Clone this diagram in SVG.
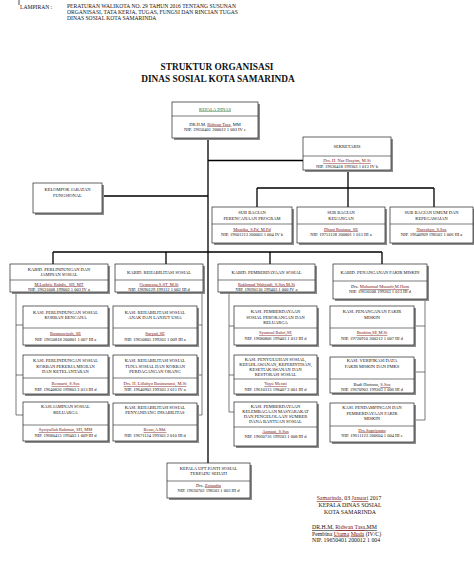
<svg xmlns="http://www.w3.org/2000/svg" width="474" height="573" viewBox="0 0 474 573">
<style>
.sh{fill:#8c8c8c}
.bx{fill:#fff;stroke:#222;stroke-width:0.7}
.dv{stroke:#222;stroke-width:0.6}
text{font-family:"Liberation Serif","Times New Roman",serif;fill:#111}
.t{font-size:4.5px;text-anchor:middle}
.nm{fill:#7a1414;text-decoration:underline}
.gr{fill:#2d6b2d;text-decoration:underline}
.c{fill:none;stroke:#000;stroke-width:1.3}
.cs{fill:none;stroke:#444;stroke-width:0.7}
.hd{font-size:5.6px}
.ti{font-size:9.3px;font-weight:bold;text-anchor:middle}
.sg{font-size:5.8px}
</style>
<rect width="474" height="573" fill="#fff"/>
<g id="header">
<line x1="19" y1="0" x2="19" y2="5" stroke="#000" stroke-width="0.7"/>
<text class="hd" x="20" y="9">LAMPIRAN :</text>
<text class="hd" x="67" y="8">PERATURAN WALIKOTA NO. 29 TAHUN 2016 TENTANG SUSUNAN</text>
<text class="hd" x="67" y="14">ORGANISASI, TATA KERJA, TUGAS, FUNGSI DAN RINCIAN TUGAS</text>
<text class="hd" x="67" y="20">DINAS SOSIAL KOTA SAMARINDA</text>
<text class="ti" x="217" y="70">STRUKTUR ORGANISASI</text>
<text class="ti" x="218" y="82">DINAS SOSIAL KOTA SAMARINDA</text>
</g>
<g id="connectors">
<path class="c" d="M208 138V463M208 160.5H303M102 196H208M348 170V188M257 188H434M257 188V207M348 188V207M434 188V207M53 252H382M53 252V264M166 252V264M270 252V264M382 252V264"/>
<path class="cs" d="M16 292V415M16 325H23M16 375H23M16 415H23M202 292V415M197 325H202M197 375H202M197 415H202M229 292V412M229 326H234M229 375H234M229 412H234M425 299V420M414 326H425M414 372H425M414 420H425"/>
</g>
<g id="kepala-dinas">
<rect class="sh" x="174" y="104" width="86" height="36"/><rect class="bx" x="172" y="102" width="86" height="36"/><line class="dv" x1="172" y1="116" x2="258" y2="116"/>
<text class="t gr" x="215" y="110.5">KEPALA DINAS</text>
<text class="t" x="215" y="125.5">DR.H.M. <tspan class="nm">Ridwan Tasa</tspan>, MM</text>
<text class="t" x="215" y="131">NIP. 19650401 200012 1 003 IV e</text>
</g>
<g id="sekretaris">
<rect class="sh" x="305" y="139" width="88" height="33"/><rect class="bx" x="303" y="137" width="88" height="33"/><line class="dv" x1="303" y1="156" x2="391" y2="156"/>
<text class="t" x="347" y="148">SEKRETARIS</text>
<text class="t nm" x="347" y="162">Drs. H. Nur Hasyim, M.Si</text>
<text class="t" x="347" y="167.5">NIP. 19630418 199303 1 013 IV b</text>
</g>
<g id="kelompok-jabatan-fungsional">
<rect class="sh" x="35" y="185" width="69" height="30"/><rect class="bx" x="33" y="183" width="69" height="30"/>
<text class="t" x="67.5" y="191">KELOMPOK JABATAN</text>
<text class="t" x="67.5" y="197">FUNGSIONAL</text>
</g>
<g id="subbag-perencanaan">
<rect class="sh" x="214" y="209" width="80" height="36"/><rect class="bx" x="212" y="207" width="80" height="36"/><line class="dv" x1="212" y1="224" x2="292" y2="224"/>
<text class="t" x="252" y="213.5">SUB BAGIAN</text>
<text class="t" x="252" y="219.5">PERENCANAAN PROGRAM</text>
<text class="t nm" x="252" y="230.5">Mustika, S.Pd, M.Pd</text>
<text class="t" x="252" y="236">NIP. 19601213 200003 1 004 IV b</text>
</g>
<g id="subbag-keuangan">
<rect class="sh" x="299" y="209" width="88" height="36"/><rect class="bx" x="297" y="207" width="88" height="36"/><line class="dv" x1="297" y1="224" x2="385" y2="224"/>
<text class="t" x="341" y="213.5">SUB BAGIAN</text>
<text class="t" x="341" y="219.5">KEUANGAN</text>
<text class="t nm" x="341" y="230.5">Dhani Rosiana, SE</text>
<text class="t" x="341" y="236">NIP. 19751128 200801 1 015 III a</text>
</g>
<g id="subbag-umum">
<rect class="sh" x="392" y="209" width="83" height="36"/><rect class="bx" x="390" y="207" width="83" height="36"/><line class="dv" x1="390" y1="224" x2="473" y2="224"/>
<text class="t" x="431.5" y="213.5">SUB BAGIAN UMUM DAN</text>
<text class="t" x="431.5" y="219.5">KEPEGAWAIAN</text>
<text class="t nm" x="431.5" y="230.5">Nurcahyo, S.Sos</text>
<text class="t" x="431.5" y="236">NIP. 19640909 198503 1 006 III a</text>
</g>
<g id="kabid-perlindungan">
<rect class="sh" x="12" y="266" width="98" height="28"/><rect class="bx" x="10" y="264" width="98" height="28"/><line class="dv" x1="10" y1="280" x2="108" y2="280"/>
<text class="t" x="59" y="270.5">KABID. PERLINDUNGAN DAN</text>
<text class="t" x="59" y="276">JAMINAN SOSIAL</text>
<text class="t nm" x="59" y="285.5">M.Luthfie Rahdie, SH, MT</text>
<text class="t" x="59" y="290.5">NIP. 19631008 199002 1 003 IV a</text>
</g>
<g id="kabid-rehabilitasi">
<rect class="sh" x="117" y="266" width="88" height="28"/><rect class="bx" x="115" y="264" width="88" height="28"/><line class="dv" x1="115" y1="280" x2="203" y2="280"/>
<text class="t" x="159" y="273.5">KABID. REHABILITASI SOSIAL</text>
<text class="t nm" x="159" y="285.5">Oemarosa,S.ST, M.Si</text>
<text class="t" x="159" y="290.5">NIP. 19690129 199112 1 002 III d</text>
</g>
<g id="kabid-pemberdayaan">
<rect class="sh" x="220" y="266" width="97" height="28"/><rect class="bx" x="218" y="264" width="97" height="28"/><line class="dv" x1="218" y1="280" x2="315" y2="280"/>
<text class="t" x="266.5" y="273.5">KABID. PEMBERDAYAAN SOSIAL</text>
<text class="t nm" x="266.5" y="285.5">Rakhmad Wahyudi, S.Sos,M.Si</text>
<text class="t" x="266.5" y="290.5">NIP. 19690130 199403 1 000 IV a</text>
</g>
<g id="kabid-fakir-miskin">
<rect class="sh" x="335" y="266" width="94" height="35"/><rect class="bx" x="333" y="264" width="94" height="35"/><line class="dv" x1="333" y1="281" x2="427" y2="281"/>
<text class="t" x="380" y="273.5">KABID. PENANGANAN FAKIR MISKIN</text>
<text class="t" x="380" y="288"><tspan>Drs. </tspan><tspan class="nm">Muhamad Munafir,M.Hum</tspan></text>
<text class="t" x="380" y="293">NIP. 19610508 199203 1 013 III d</text>
</g>
<g id="kasi-korban-bencana">
<rect class="sh" x="25" y="308" width="85" height="39"/><rect class="bx" x="23" y="306" width="85" height="39"/><line class="dv" x1="23" y1="328" x2="108" y2="328"/>
<text class="t" x="65.5" y="313.5">KASI. PERLINDUNGAN SOSIAL</text>
<text class="t" x="65.5" y="319">KORBAN BENCANA</text>
<text class="t nm" x="65.5" y="334.5">Rusmawiyah, SE</text>
<text class="t" x="65.5" y="340.5">NIP. 19650818 200801 1 007 III a</text>
</g>
<g id="kasi-pekerja-migran">
<rect class="sh" x="25" y="357" width="85" height="39"/><rect class="bx" x="23" y="355" width="85" height="39"/><line class="dv" x1="23" y1="378" x2="108" y2="378"/>
<text class="t" x="65.5" y="362">KASI. PERLINDUNGAN SOSIAL</text>
<text class="t" x="65.5" y="367.5">KORBAN PEKERJA MIGRAN</text>
<text class="t" x="65.5" y="373">DAN KETELANTARAN</text>
<text class="t nm" x="65.5" y="385">Bennarti, S.Sos</text>
<text class="t" x="65.5" y="390.5">NIP. 19640820 199803 2 013 III d</text>
</g>
<g id="kasi-jaminan-keluarga">
<rect class="sh" x="25" y="404" width="85" height="39"/><rect class="bx" x="23" y="402" width="85" height="39"/><line class="dv" x1="23" y1="425" x2="108" y2="425"/>
<text class="t" x="65.5" y="408">KASI.JAMINAN SOSIAL</text>
<text class="t" x="65.5" y="414">KELUARGA</text>
<text class="t nm" x="65.5" y="431">Syaiyullah Rahman, SH, MM</text>
<text class="t" x="65.5" y="436.5">NIP. 19680413 199403 1 009 III d</text>
</g>
<g id="kasi-anak-lansia">
<rect class="sh" x="115" y="308" width="84" height="39"/><rect class="bx" x="113" y="306" width="84" height="39"/><line class="dv" x1="113" y1="328" x2="197" y2="328"/>
<text class="t" x="155" y="313.5">KASI. REHABILITASI SOSIAL</text>
<text class="t" x="155" y="319">ANAK DAN LANJUT USIA</text>
<text class="t nm" x="155" y="334.5">Suryati,SE</text>
<text class="t" x="155" y="340.5">NIP. 19650805 199203 1 009 III a</text>
</g>
<g id="kasi-tuna-sosial">
<rect class="sh" x="115" y="357" width="84" height="39"/><rect class="bx" x="113" y="355" width="84" height="39"/><line class="dv" x1="113" y1="378" x2="197" y2="378"/>
<text class="t" x="155" y="362">KASI. REHABILITASI SOSIAL</text>
<text class="t" x="155" y="367.5">TUNA SOSIAL DAN KORBAN</text>
<text class="t" x="155" y="373">PERDAGANGAN ORANG</text>
<text class="t nm" x="155" y="385">Drs. H. Lillahyo Basinuransi, M.Si</text>
<text class="t" x="155" y="390.5">NIP. 19640903 199303 2 011 IV a</text>
</g>
<g id="kasi-disabilitas">
<rect class="sh" x="115" y="405" width="84" height="38"/><rect class="bx" x="113" y="403" width="84" height="38"/><line class="dv" x1="113" y1="425" x2="197" y2="425"/>
<text class="t" x="155" y="408.5">KASI. REHABILITASI SOSIAL</text>
<text class="t" x="155" y="414">PENYANDANG DISABILITAS</text>
<text class="t nm" x="155" y="431">Besar,A.Md.</text>
<text class="t" x="155" y="436.5">NIP. 19671124 199303 2 010 III d</text>
</g>
<g id="kasi-perorangan-keluarga">
<rect class="sh" x="236" y="308" width="83" height="39"/><rect class="bx" x="234" y="306" width="83" height="39"/><line class="dv" x1="234" y1="328" x2="317" y2="328"/>
<text class="t" x="275.5" y="313">KASI. PEMBERDAYAAN</text>
<text class="t" x="275.5" y="318.5">SOSIAL PERORANGAN DAN</text>
<text class="t" x="275.5" y="324">KELUARGA</text>
<text class="t nm" x="275.5" y="334">Syamsul Bahri,SE</text>
<text class="t" x="275.5" y="340">NIP. 19680806 199403 1 012 III d</text>
</g>
<g id="kasi-penyuluhan">
<rect class="sh" x="236" y="357" width="83" height="39"/><rect class="bx" x="234" y="355" width="83" height="39"/><line class="dv" x1="234" y1="379" x2="317" y2="379"/>
<text class="t" x="275.5" y="360.5">KASI. PENYULUHAN SOSIAL,</text>
<text class="t" x="275.5" y="365.5">KEPAHLAWANAN, KEPERINTISAN,</text>
<text class="t" x="275.5" y="370.5">KESETIAKAWANAN DAN</text>
<text class="t" x="275.5" y="375.5">RESTORASI SOSIAL</text>
<text class="t nm" x="275.5" y="385">Yayu Merati</text>
<text class="t" x="275.5" y="390.5">NIP. 19610313 198407 2 001 III d</text>
</g>
<g id="kasi-kelembagaan">
<rect class="sh" x="236" y="404" width="83" height="44"/><rect class="bx" x="234" y="402" width="83" height="44"/><line class="dv" x1="234" y1="427" x2="317" y2="427"/>
<text class="t" x="275.5" y="407.5">KASI. PEMBERDAYAAN</text>
<text class="t" x="275.5" y="412.5">KELEMBAGAAN MASYARAKAT</text>
<text class="t" x="275.5" y="417.5">DAN PENGELOLAAN SUMBER</text>
<text class="t" x="275.5" y="422.5">DANA BANTUAN SOSIAL</text>
<text class="t nm" x="275.5" y="432.5">Asmani, S.Sos</text>
<text class="t" x="275.5" y="438">NIP. 19660716 199203 1 008 III d</text>
</g>
<g id="kasi-penanganan-fakir">
<rect class="sh" x="332" y="308" width="84" height="39"/><rect class="bx" x="330" y="306" width="84" height="39"/><line class="dv" x1="330" y1="328" x2="414" y2="328"/>
<text class="t" x="372" y="313">KASI. PENANGANAN FAKIR</text>
<text class="t" x="372" y="318.5">MISKIN</text>
<text class="t nm" x="372" y="334">Ibrahim,SE,M.Si</text>
<text class="t" x="372" y="340">NIP. 19720910 200212 1 007 III d</text>
</g>
<g id="kasi-verifikasi">
<rect class="sh" x="332" y="359" width="84" height="36"/><rect class="bx" x="330" y="357" width="84" height="36"/><line class="dv" x1="330" y1="379" x2="414" y2="379"/>
<text class="t" x="372" y="362">KASI. VERIFIKASI DATA</text>
<text class="t" x="372" y="367.5">FAKIR MISKIN DAN PMKS</text>
<text class="t" x="372" y="386"><tspan>Budi Hartono, </tspan><tspan class="nm">S.Sos</tspan></text>
<text class="t" x="372" y="391">NIP. 19670903 199203 1 006 III d</text>
</g>
<g id="kasi-pendampingan">
<rect class="sh" x="332" y="405" width="84" height="39"/><rect class="bx" x="330" y="403" width="84" height="39"/><line class="dv" x1="330" y1="426" x2="414" y2="426"/>
<text class="t" x="372" y="409">KASI. PENDAMPINGAN DAN</text>
<text class="t" x="372" y="414.5">PEMBERDAYAAN FAKIR</text>
<text class="t" x="372" y="420">MISKIN</text>
<text class="t nm" x="372" y="431.5">Drs.Supriyanto</text>
<text class="t" x="372" y="437">NIP. 19611123 200604 1 004 III e</text>
</g>
<g id="kepala-upt">
<rect class="sh" x="169" y="465" width="83" height="35"/><rect class="bx" x="167" y="463" width="83" height="35"/><line class="dv" x1="167" y1="481" x2="250" y2="481"/>
<text class="t" x="208.5" y="469.5">KEPALA UPT PANTI SOSIAL</text>
<text class="t" x="208.5" y="475">TERPADU SEHATI</text>
<text class="t" x="208.5" y="486.5">Drs. <tspan class="nm">Zainudin</tspan></text>
<text class="t" x="208.5" y="492">NIP. 19630702 198503 1 003 III d</text>
</g>
<g id="signature">
<text class="sg" x="349" y="500" text-anchor="middle"><tspan class="nm">Samarinda</tspan>, 03 <tspan class="nm">Januari</tspan> 2017</text>
<text class="sg" x="350" y="507" text-anchor="middle">KEPALA DINAS SOSIAL</text>
<text class="sg" x="350" y="514" text-anchor="middle">KOTA SAMARINDA</text>
<text class="sg" x="312" y="529" text-decoration="underline">DR.H.M. <tspan class="nm">Ridwan Tasa</tspan>,MM</text>
<text class="sg" x="312" y="535.5">Pembina <tspan class="nm">Utama</tspan> <tspan class="nm">Muda</tspan> (IV/C)</text>
<text class="sg" x="312" y="542">NIP. 19650401 200012 1 004</text>
</g>
</svg>
